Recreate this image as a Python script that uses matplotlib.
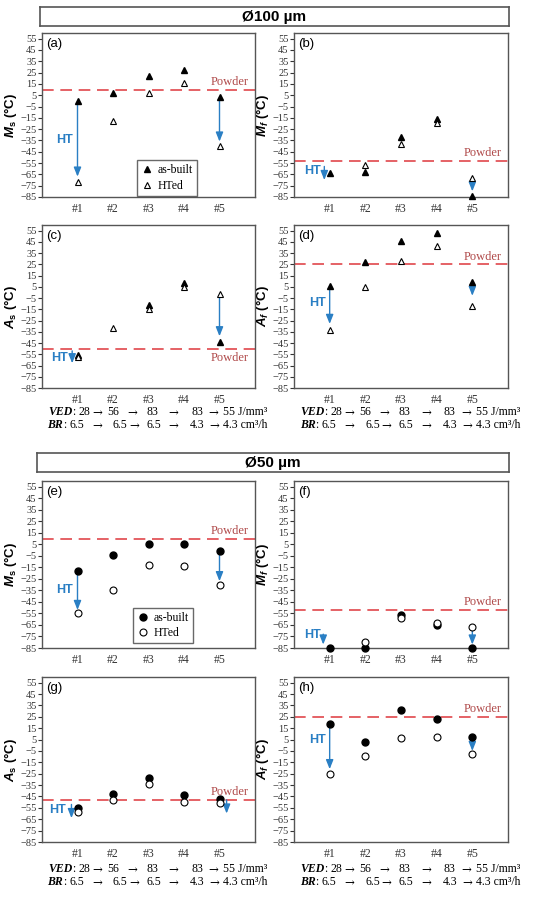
import numpy as np
import matplotlib
matplotlib.use('Agg')
from matplotlib import pyplot as plt
from matplotlib import transforms

plt.rcParams['mathtext.fontset'] = 'custom'
plt.rcParams['mathtext.it'] = 'Liberation Sans:italic:bold'
plt.rcParams['mathtext.bf'] = 'Liberation Sans:bold'
plt.rcParams['mathtext.rm'] = 'Liberation Sans:bold'

nan = np.nan

# sample positions and labels
samples = ['#1', '#2', '#3', '#4', '#5']
xs = np.arange(1, 6)
yticks = np.arange(55, -86, -10)

# process parameters under the bottom panels
ved = ['28', '56', '83', '83', '55 J/mm\u00b3']
br = ['6.5', '6.5', '6.5', '4.3', '4.3 cm\u00b3/h']

# Ø100 µm (triangles)
ms100_built = [0, 7, 22, 27, 3]
ms100_ht = [-72, -18, 7, 16, -40]
mf100_built = [-64, -63, -32, -16, -84]
mf100_ht = [nan, -57, -38, -20, -68]
as100_built = [-56, nan, -11, 8, -44]
as100_ht = [-57, -32, -15, 5, -1]
af100_built = [6, 27, 46, 53, 9]
af100_ht = [-33, 5, 28, 41, -12]

# Ø50 µm (circles)
ms50_built = [-18, -4, 5, 5, -1]
ms50_ht = [-55, -35, -13, -14, -30]
mf50_built = [-85, -85, -56, -65, -85]
mf50_ht = [nan, -80, -59, -63, -67]
as50_built = [-55, -43, -29, -44, -47]
as50_ht = [-59, -48, -34, -50, -51]
af50_built = [19, 3, 31, 23, 7]
af50_ht = [-25, -9, 6, 7, -8]

# powder reference temperatures
powder_ms100, powder_mf100, powder_as100, powder_af100 = 10, -53, -50, 25
powder_ms50, powder_mf50, powder_as50, powder_af50 = 10, -52, -48, 25

# HT arrows: (x, start, end) and HT label positions
arrows_a = [(1, -2, -67), (5, 1, -36)]
arrows_b = [(0.85, -58, -70), (5, -71, -80)]
arrows_c = [(0.85, -52, -63), (5, -4, -39)]
arrows_d = [(1, 3, -28), (5, 5, -3)]
arrows_e = [(1, -21, -52), (5, -4, -27)]
arrows_f = [(0.82, -73, -82), (5, -70, -82)]
arrows_g = [(0.83, -52, -64), (5.2, -48, -60)]
arrows_h = [(1, 16, -21), (5, 3, -5)]
ht_a, ht_b, ht_c, ht_d = (0.63, -35), (0.52, -62), (0.5, -58), (0.67, -9)
ht_e, ht_f, ht_g, ht_h = (0.62, -35), (0.52, -74), (0.45, -57), (0.67, 5)

W, H = 550, 898
fig = plt.figure(figsize=(W / 100, H / 100), dpi=100)

def box(px0, py0, px1, py1):
    return [px0 / W, 1 - py1 / H, (px1 - px0) / W, (py1 - py0) / H]

def header(rect, text):
    hx = fig.add_axes(rect)
    hx.set_xticks([])
    hx.set_yticks([])
    for s in hx.spines.values():
        s.set_color('#555555')
        s.set_linewidth(1.2)
    hx.text(0.5, 0.5, text, ha='center', va='center', fontsize=11,
            fontweight='bold', family='Liberation Sans', transform=hx.transAxes)

blue = '#2a7fc4'
red = '#e0474c'

def panel(rect, tag, ylab, built, ht, powder, marker, arrows, htpos,
          powder_below=False, legend_at=None):
    ax = fig.add_axes(rect)
    ax.set_xlim(0, 6)
    ax.set_ylim(-85, 60)
    ax.set_yticks(yticks)
    ax.set_xticks(xs)
    ax.set_xticklabels(samples)
    for lab in ax.get_yticklabels():
        lab.set_family('Liberation Serif')
        lab.set_fontsize(7.5)
    for lab in ax.get_xticklabels():
        lab.set_family('Liberation Serif')
        lab.set_fontsize(8.5)
    ax.tick_params(axis='y', direction='out', length=3, width=0.8, pad=1,
                   colors='#333333')
    ax.tick_params(axis='x', length=0, pad=4, colors='#333333')
    for s in ax.spines.values():
        s.set_color('#555555')
        s.set_linewidth(1.0)
    ax.set_ylabel(ylab, family='Liberation Sans', fontweight='bold',
                  fontsize=9.5, labelpad=1)
    ax.axhline(powder, color=red, lw=1.2, dashes=(7, 4), zorder=1)
    tr = transforms.blended_transform_factory(ax.transAxes, ax.transData)
    if powder_below:
        ax.text(0.97, powder - 3, 'Powder', color='#b04a4a', ha='right',
                va='top', fontsize=9, family='Liberation Serif', transform=tr)
    else:
        ax.text(0.97, powder + 1.5, 'Powder', color='#b04a4a', ha='right',
                va='bottom', fontsize=9, family='Liberation Serif', transform=tr)
    for (xa, y0, y1) in arrows:
        ax.annotate('', xy=(xa, y1), xytext=(xa, y0),
                    arrowprops=dict(arrowstyle='-|>,head_length=0.55,head_width=0.22',
                                    color=blue, lw=1.0, shrinkA=0, shrinkB=0),
                    zorder=2)
    ax.text(htpos[0], htpos[1], 'HT', color=blue, fontweight='bold',
            fontsize=9, family='Liberation Sans', ha='center', va='center')
    ax.plot(xs, built, linestyle='none', marker=marker, ms=5, color='black',
            label='as-built', zorder=3, clip_on=False)
    ax.plot(xs, ht, linestyle='none', marker=marker, ms=5, mfc='white',
            mec='black', mew=0.8, label='HTed', zorder=3, clip_on=False)
    ax.text(0.02, 0.97, tag, transform=ax.transAxes, ha='left', va='top',
            fontsize=9.5, family='Liberation Sans')
    if legend_at is not None:
        lg = ax.legend(loc='lower left', bbox_to_anchor=legend_at, frameon=True,
                       fancybox=False, edgecolor='#444444', handletextpad=0.4,
                       borderpad=0.35, labelspacing=0.3, handlelength=1.0,
                       borderaxespad=0.1,
                       prop={'family': 'Liberation Serif', 'size': 8.5})
        lg.get_frame().set_linewidth(1.0)
    return ax

def params_rows(ax, y_ved, y_br):
    tr = transforms.blended_transform_factory(ax.transData, ax.transAxes)
    fs = 8.5
    ax.text(0.85, y_ved, 'VED', transform=tr, ha='right', va='center',
            fontsize=fs, family='Liberation Serif', fontweight='bold', style='italic')
    ax.text(0.85, y_ved, ':', transform=tr, ha='left', va='center',
            fontsize=fs, family='Liberation Serif')
    ax.text(0.6, y_br, 'BR', transform=tr, ha='right', va='center',
            fontsize=fs, family='Liberation Serif', fontweight='bold', style='italic')
    ax.text(0.6, y_br, ':', transform=tr, ha='left', va='center',
            fontsize=fs, family='Liberation Serif')
    ved_x = [1.2, 2.0, 3.1, 4.37, 5.1]
    br_x = [0.98, 2.2, 3.15, 4.37, 5.1]
    ved_arrow_x = [1.55, 2.53, 3.7, 4.82]
    br_arrow_x = [1.55, 2.6, 3.7, 4.85]
    for i in range(5):
        ha = 'left' if i == 4 else 'center'
        ax.text(ved_x[i], y_ved, ved[i], transform=tr, ha=ha, va='center',
                fontsize=fs, family='Liberation Serif')
        ax.text(br_x[i], y_br, br[i], transform=tr, ha=ha, va='center',
                fontsize=fs, family='Liberation Serif')
    for i in range(4):
        ax.text(ved_arrow_x[i], y_ved, '\u2192', transform=tr, ha='center',
                va='center', fontsize=fs, family='DejaVu Serif')
        ax.text(br_arrow_x[i], y_br, '\u2192', transform=tr, ha='center',
                va='center', fontsize=fs, family='DejaVu Serif')

L0, L1, R0, R1 = 42, 255, 294, 508

header(box(40, 7, 509, 26), '\u00d8100 \u00b5m')
panel(box(L0, 33, L1, 197), '(a)', r'$\mathit{M}_\mathbf{s}$ (°C)', ms100_built, ms100_ht,
      powder_ms100, '^', arrows_a, ht_a, legend_at=(0.44, 0.0))
panel(box(R0, 33, R1, 197), '(b)', r'$\mathit{M}_\mathit{f}$ (°C)', mf100_built, mf100_ht,
      powder_mf100, '^', arrows_b, ht_b)
axc = panel(box(L0, 225, L1, 388), '(c)', r'$\mathit{A}_\mathbf{s}$ (°C)', as100_built, as100_ht,
            powder_as100, '^', arrows_c, ht_c, powder_below=True)
axd = panel(box(R0, 225, R1, 388), '(d)', r'$\mathit{A}_\mathit{f}$ (°C)', af100_built, af100_ht,
            powder_af100, '^', arrows_d, ht_d)
params_rows(axc, -0.15, -0.23)
params_rows(axd, -0.15, -0.23)

header(box(37, 453, 509, 472), '\u00d850 \u00b5m')
panel(box(L0, 481, L1, 648), '(e)', r'$\mathit{M}_\mathbf{s}$ (°C)', ms50_built, ms50_ht,
      powder_ms50, 'o', arrows_e, ht_e, legend_at=(0.42, 0.02))
panel(box(R0, 481, R1, 648), '(f)', r'$\mathit{M}_\mathit{f}$ (°C)', mf50_built, mf50_ht,
      powder_mf50, 'o', arrows_f, ht_f)
axg = panel(box(L0, 677, L1, 842), '(g)', r'$\mathit{A}_\mathbf{s}$ (°C)', as50_built, as50_ht,
            powder_as50, 'o', arrows_g, ht_g)
axh = panel(box(R0, 677, R1, 842), '(h)', r'$\mathit{A}_\mathit{f}$ (°C)', af50_built, af50_ht,
            powder_af50, 'o', arrows_h, ht_h)
params_rows(axg, -0.165, -0.245)
params_rows(axh, -0.165, -0.245)

fig.savefig('out.png', dpi=100)
